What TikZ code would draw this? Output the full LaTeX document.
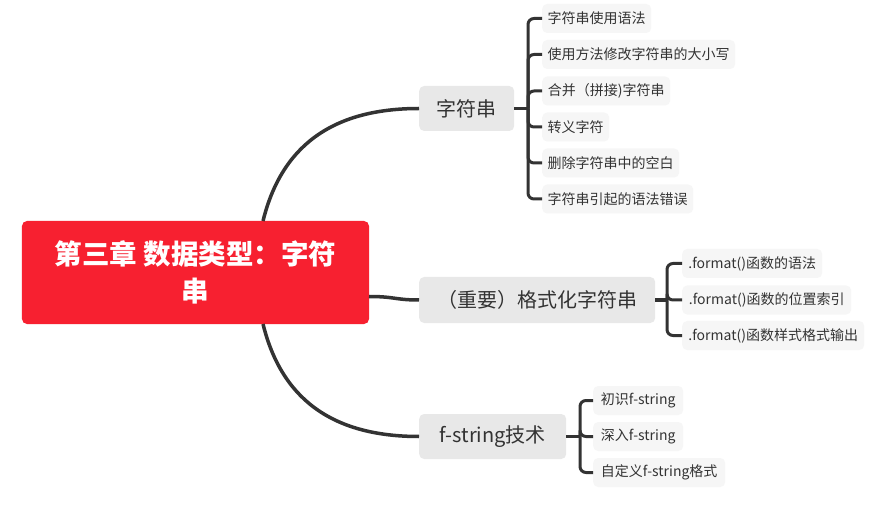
\documentclass[tikz,border=0pt]{standalone}
\usepackage{fontspec}
\setmainfont{Noto Sans CJK SC}
\definecolor{rootred}{HTML}{F72030}
\definecolor{mainfill}{HTML}{E8E8E8}
\definecolor{leaffill}{HTML}{F6F6F6}
\definecolor{txt}{HTML}{333333}
\definecolor{lc}{HTML}{333333}
\begin{document}
\begin{tikzpicture}[x=1bp,y=-1bp,
  conn/.style={draw=lc, line width=3.5bp},
  brk/.style={draw=lc, line width=3bp, rounded corners=6bp},
  rootbox/.style={fill=rootred, rounded corners=5bp, text=white, font=\fontsize{27.5bp}{37bp}\selectfont\bfseries, align=center, minimum width=347bp, minimum height=103bp, inner sep=0pt},
  mainbox/.style={fill=mainfill, rounded corners=5bp, text=txt, font=\fontsize{20bp}{24bp}\selectfont, minimum height=45bp, inner sep=0pt, anchor=west},
  leaf/.style={fill=leaffill, rounded corners=5bp, text=txt, font=\fontsize{14bp}{16bp}\selectfont, minimum height=29bp, inner sep=0pt, anchor=west}]
\useasboundingbox[fill=white] (0,0) rectangle (892,508);

\node[rootbox] (root) at (195.5,272.5) {第三章 数据类型：字符\\串};

\node[mainbox, minimum width=95bp] (b1) at (419,108.5) {字符串};
\node[mainbox, minimum width=236bp, minimum height=46bp] (b2) at (419,300) {（重要）格式化字符串};
\node[mainbox, minimum width=147bp] (b3) at (419,436.5) {f-string技术};

\node[leaf, minimum width=109bp] (a1) at (542,18.5) {字符串使用语法};
\node[leaf, minimum width=193bp] (a2) at (542,54.5) {使用方法修改字符串的大小写};
\node[leaf, minimum width=128bp] (a3) at (542,91) {合并（拼接)字符串};
\node[leaf, minimum width=67bp] (a4) at (542,127) {转义字符};
\node[leaf, minimum width=137bp] (a5) at (542,163) {删除字符串中的空白};
\node[leaf, minimum width=151bp] (a6) at (542,199) {字符串引起的语法错误};

\node[leaf, minimum width=140bp] (f1) at (682,263.5) {.format()函数的语法};
\node[leaf, minimum width=169bp] (f2) at (682,300) {.format()函数的位置索引};
\node[leaf, minimum width=182bp] (f3) at (682,335.5) {.format()函数样式格式输出};

\node[leaf, minimum width=90bp] (s1) at (593,400.5) {初识f-string};
\node[leaf, minimum width=90bp] (s2) at (593,436.5) {深入f-string};
\node[leaf, minimum width=132bp] (s3) at (593,472.5) {自定义f-string格式};

\coordinate (rt) at (263,221);
\coordinate (rb) at (263,324);
\coordinate (rm) at (369,296.5);
\draw[conn] (rt) .. controls (281,148) and (330,108.5) .. (b1.west);
\draw[conn] (rb) .. controls (281,397) and (330,436.5) .. (b3.west);
\draw[conn] (rm) .. controls (395,296.5) and (395,300) .. (b2.west);

\coordinate (j1) at (528,108.5);
\coordinate (j2) at (667,300);
\coordinate (j3) at (580,436.5);
\draw[conn] (b1.east) -- (j1);
\draw[conn] (b2.east) -- (j2);
\draw[conn] (b3.east) -- (j3);
\foreach \n in {a1,a2,a3,a4,a5,a6} \draw[brk] (j1) |- (\n.west);
\foreach \n in {f1,f2,f3} \draw[brk] (j2) |- (\n.west);
\foreach \n in {s1,s2,s3} \draw[brk] (j3) |- (\n.west);
\end{tikzpicture}
\end{document}
